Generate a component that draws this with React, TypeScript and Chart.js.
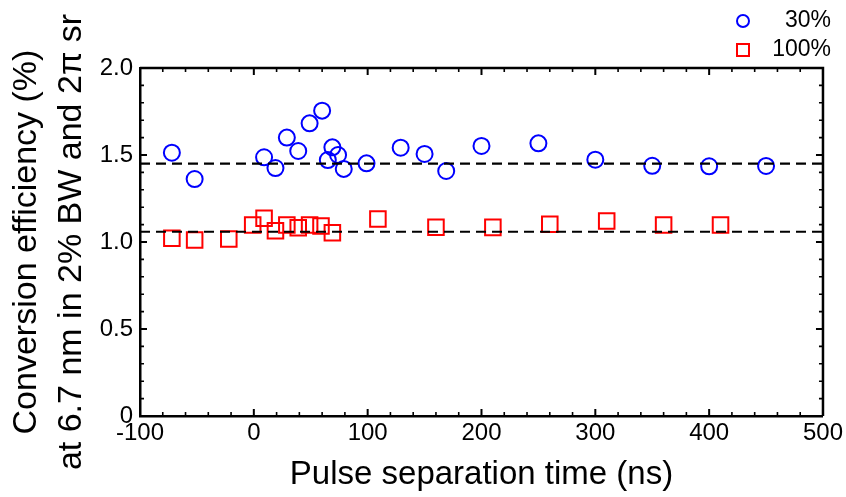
import React, { useEffect, useRef } from "react";
import { Chart, registerables } from "chart.js";

Chart.register(...registerables);

const FONT = "'Liberation Sans', Arial, Helvetica, sans-serif";

// 30% series (blue circles)
const x30 = [-72, -52, 9, 19, 29, 39, 49, 60, 65, 69, 74, 79, 99, 129, 150, 169, 200, 250, 300, 350, 400, 450];
const y30 = [1.513, 1.362, 1.487, 1.425, 1.6, 1.523, 1.682, 1.755, 1.471, 1.544, 1.5, 1.42, 1.452, 1.542, 1.506, 1.408, 1.552, 1.567, 1.473, 1.438, 1.435, 1.437];

// 100% series (red squares)
const x100 = [-72, -52, -22, -1, 9, 19, 29, 39, 49, 59, 69, 109, 160, 210, 260, 310, 360, 410];
const y100 = [1.021, 1.011, 1.017, 1.098, 1.136, 1.065, 1.098, 1.082, 1.098, 1.092, 1.053, 1.132, 1.085, 1.084, 1.102, 1.121, 1.098, 1.098];

// dashed reference lines
const refX = [-100, 500];
const ref30 = 1.451;
const ref100 = 1.059;

const legendLabels = ["30%", "100%"];
const xTitle = "Pulse separation time (ns)";
const yTitle = ["Conversion efficiency (%)", "at 6.7 nm in 2% BW and 2\u03c0 sr"];

const BLUE = "#0000ff";
const RED = "#ff0000";

const framePlugin = {
  id: "frameTicks",
  afterDraw(chart: any) {
    const { ctx, chartArea: a, scales } = chart;
    const xs = scales.x;
    const ys = scales.y;
    ctx.save();
    ctx.strokeStyle = "#000";
    ctx.lineWidth = 2.5;
    ctx.beginPath();
    ctx.moveTo(a.left, a.top);
    ctx.lineTo(a.right, a.top);
    ctx.lineTo(a.right, a.bottom);
    ctx.stroke();
    // x ticks (inward, top and bottom)
    for (let v = -100; v <= 500; v += 20) {
      const px = xs.getPixelForValue(v);
      const major = v % 100 === 0;
      const len = major ? 7 : 4;
      ctx.lineWidth = major ? 2 : 1.6;
      ctx.beginPath();
      ctx.moveTo(px, a.bottom);
      ctx.lineTo(px, a.bottom - len);
      ctx.moveTo(px, a.top);
      ctx.lineTo(px, a.top + len);
      ctx.stroke();
    }
    for (let i = 0; i <= 20; i++) {
      const v = i / 10;
      const py = ys.getPixelForValue(v);
      const major = i % 5 === 0;
      const len = major ? 7 : 4;
      ctx.lineWidth = major ? 2 : 1.6;
      ctx.beginPath();
      ctx.moveTo(a.left, py);
      ctx.lineTo(a.left + len, py);
      ctx.moveTo(a.right, py);
      ctx.lineTo(a.right - len, py);
      ctx.stroke();
    }
    // legend
    ctx.lineWidth = 2;
    ctx.strokeStyle = BLUE;
    ctx.beginPath();
    ctx.arc(743, 21, 6, 0, Math.PI * 2);
    ctx.stroke();
    ctx.strokeStyle = RED;
    ctx.strokeRect(737, 44, 12, 12);
    ctx.fillStyle = "#000";
    ctx.font = `23px ${FONT}`;
    ctx.textAlign = "right";
    ctx.textBaseline = "middle";
    ctx.fillText(legendLabels[0], 831, 21);
    ctx.fillText(legendLabels[1], 831, 50);
    ctx.restore();
  },
};

export default function App() {
  const ref = useRef<HTMLCanvasElement | null>(null);
  useEffect(() => {
    if (!ref.current) return;
    const chart = new Chart(ref.current, {
      type: "scatter",
      data: {
        datasets: [
          {
            data: refX.map((x) => ({ x, y: ref30 })),
            showLine: true,
            borderColor: "#000",
            borderWidth: 2.2,
            borderDash: [10, 6],
            pointRadius: 0,
          },
          {
            data: refX.map((x) => ({ x, y: ref100 })),
            showLine: true,
            borderColor: "#000",
            borderWidth: 2.2,
            borderDash: [10, 6],
            pointRadius: 0,
          },
          {
            label: legendLabels[0],
            data: x30.map((x, i) => ({ x, y: y30[i] })),
            pointStyle: "circle",
            pointRadius: 8,
            pointBorderWidth: 2,
            pointBorderColor: BLUE,
            pointBackgroundColor: "rgba(0,0,0,0)",
          },
          {
            label: legendLabels[1],
            data: x100.map((x, i) => ({ x, y: y100[i] })),
            pointStyle: "rect",
            pointRadius: 11,
            pointBorderWidth: 2,
            pointBorderColor: RED,
            pointBackgroundColor: "rgba(0,0,0,0)",
          },
        ],
      },
      options: {
        animation: false,
        responsive: false,
        layout: { padding: { left: 0, right: 13, top: 68, bottom: 0 } },
        plugins: { legend: { display: false }, tooltip: { enabled: false } },
        scales: {
          x: {
            type: "linear",
            min: -100,
            max: 500,
            afterFit: (s: any) => {
              s.height = 81;
            },
            grid: { display: false, drawTicks: false },
            border: { display: true, color: "#000", width: 2.5 },
            ticks: {
              stepSize: 100,
              color: "#000",
              padding: 3,
              maxRotation: 0,
              autoSkip: false,
              font: { family: FONT, size: 24 },
            },
            title: {
              display: true,
              text: xTitle,
              color: "#000",
              font: { family: FONT, size: 33 },
              padding: { top: 0, bottom: 2 },
            },
          },
          y: {
            type: "linear",
            min: 0,
            max: 2,
            afterFit: (s: any) => {
              s.width = 140;
            },
            grid: { display: false, drawTicks: false },
            border: { display: true, color: "#000", width: 2.5 },
            ticks: {
              stepSize: 0.5,
              color: "#000",
              padding: 7,
              font: { family: FONT, size: 24 },
              callback: (v: any) => (Number(v) === 0 ? "0" : Number(v).toFixed(1)),
            },
            title: {
              display: true,
              text: yTitle,
              color: "#000",
              font: { family: FONT, size: 34, lineHeight: 45 / 34 },
              padding: { top: 4.5, bottom: 0 },
            },
          },
        },
      },
      plugins: [framePlugin],
    });
    return () => chart.destroy();
  }, []);
  return (
    <div style={{ position: "absolute", left: 0, top: 0, width: 846, height: 497 }}>
      <canvas ref={ref} width={846} height={497} style={{ display: "block" }} />
    </div>
  );
}
